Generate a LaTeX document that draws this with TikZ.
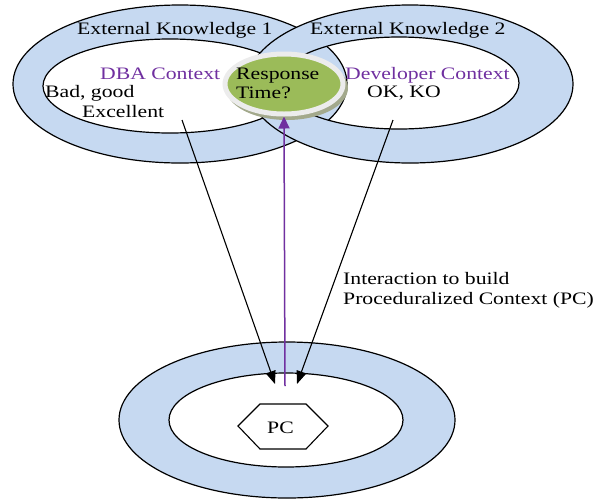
\documentclass[tikz,border=0pt]{standalone}
\usepackage{fontspec}
\setmainfont{Liberation Serif}[FakeStretch=1.24]
\usetikzlibrary{arrows.meta,shapes.geometric}
\definecolor{ringblue}{HTML}{C6D9F1}
\definecolor{purp}{HTML}{7030A0}
\definecolor{respgreen}{HTML}{9BBB59}
\definecolor{respborder}{HTML}{ECECEC}
\definecolor{respshadow}{HTML}{A3A98C}
\tikzset{
  ringline/.style={draw=black, line width=1.2pt},
  lbl/.style={anchor=base west, inner sep=0pt, font=\fontsize{17.5}{19.5}\selectfont},
  ctxlbl/.style={lbl, text=purp},
  blackarrow/.style={draw=black, line width=1.1pt, -{Triangle[length=13pt,width=10pt]}},
  purplearrow/.style={draw=purp, line width=1.5pt, -{Triangle[length=12pt,width=11pt]}},
}
\begin{document}
\begin{tikzpicture}[x=1pt,y=-1pt]
\useasboundingbox (0,0) rectangle (597,499);
% left ring
\fill[ringblue, even odd rule] (180,84) ellipse [x radius=167pt, y radius=79pt]
                               (170,86) ellipse [x radius=127pt, y radius=47pt];
\draw[ringline] (180,84) ellipse [x radius=167pt, y radius=79pt];
\draw[ringline] (170,86) ellipse [x radius=127pt, y radius=47pt];
% right ring
\fill[ringblue, even odd rule] (410,84) ellipse [x radius=163pt, y radius=79pt]
                               (399,83) ellipse [x radius=120pt, y radius=46pt];
\draw[ringline] (410,84) ellipse [x radius=163pt, y radius=79pt];
\draw[ringline] (399,83) ellipse [x radius=120pt, y radius=46pt];
% bottom ring
\fill[ringblue, even odd rule] (287,420) ellipse [x radius=168pt, y radius=78pt]
                               (286,420) ellipse [x radius=117pt, y radius=47pt];
\draw[ringline] (287,420) ellipse [x radius=168pt, y radius=78pt];
\draw[ringline] (286,420) ellipse [x radius=117pt, y radius=47pt];
% hexagon
\draw[line width=1.1pt, fill=white] (238,426) -- (260,404) -- (306,404) -- (328,426) -- (306,449) -- (260,449) -- cycle;
\node[lbl] (pc) at (267,433) {PC};
% labels
\node[lbl] (ek1) at (77,34) {External Knowledge 1};
\node[lbl] (ek2) at (310,34) {External Knowledge 2};
\node[ctxlbl] (dba) at (100,79) {DBA Context};
\node[lbl] (bad) at (45,97) {Bad, good};
\node[lbl] (exc) at (82,117) {Excellent};
\node[ctxlbl] (dev) at (345,79) {Developer Context};
\node[lbl] (okko) at (367,97) {OK, KO};
\node[lbl] (inter1) at (343,284) {Interaction to build};
\node[lbl] (inter2) at (343,304) {Proceduralized Context (PC)};
% response time
\fill[respshadow] (287,88) ellipse [x radius=61pt, y radius=32pt];
\node[ellipse, fill=respgreen, draw=respborder, line width=5pt, minimum width=118pt, minimum height=60pt, inner sep=0pt] (resp) at (284,84) {};
\node[lbl] (resp1) at (236,79) {Response};
\node[lbl] (resp2) at (236,98) {Time?};
% arrows
\coordinate (a1s) at (182,120);
\coordinate (a1e) at (275,384);
\coordinate (a2s) at (393,120);
\coordinate (a2e) at (297,384);
\coordinate (ps) at (285,386);
\draw[blackarrow] (a1s) -- (a1e);
\draw[blackarrow] (a2s) -- (a2e);
\draw[purplearrow] (ps) -- (resp.south);
\end{tikzpicture}
\end{document}
